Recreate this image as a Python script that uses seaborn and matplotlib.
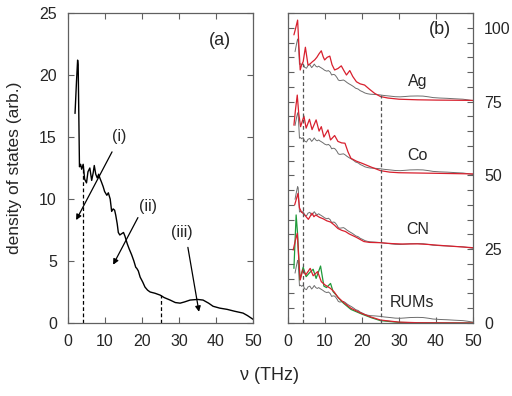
import numpy as np
import pandas as pd
import seaborn as sns
import matplotlib.pyplot as plt
from matplotlib.ticker import MultipleLocator

# total density of states, panel (a)
nu_tot = [1.9, 2.3, 2.6, 2.75, 3.1, 3.4, 3.7, 4.1, 4.5, 5.0, 5.4, 5.9, 6.4, 6.8, 7.1, 7.5,
          7.9, 8.3, 8.6, 9.0, 9.5, 9.9, 10.5, 10.9, 11.4, 11.8, 12.2, 12.6, 12.9, 13.3, 13.6,
          14.0, 14.5, 15.0, 15.4, 16.0, 16.5, 17.2, 17.8, 18.3, 18.6, 19.0, 19.5, 20.2, 20.8,
          21.5, 22.2, 23.5, 24.9, 26.0, 27.6, 29.0, 30.3, 31.5, 33.0, 35.0, 36.5, 38.0, 39.2,
          41.0, 43.0, 45.0, 47.3, 48.5, 50.0]
dos_tot = [16.9, 19.5, 21.2, 20.8, 12.6, 12.8, 12.4, 12.8, 11.6, 11.3, 12.2, 12.5, 11.5, 12.1,
           12.7, 12.0, 11.7, 12.0, 11.7, 11.4, 11.0, 10.6, 10.3, 10.5, 10.0, 9.0, 9.2, 9.1, 8.7,
           8.0, 7.3, 7.1, 7.2, 7.3, 7.0, 6.4, 6.0, 5.5, 5.0, 4.5, 4.4, 4.2, 3.7, 3.3, 2.9, 2.65,
           2.5, 2.4, 2.25, 2.05, 1.85, 1.65, 1.6, 1.7, 1.85, 1.9, 1.85, 1.6, 1.35, 1.2, 1.1,
           0.95, 0.8, 0.6, 0.3]

# partial densities, panel (b)
nu_ag = [1.6, 2.0, 2.6, 2.9, 3.3, 3.7, 4.1, 4.7, 5.4, 6.0, 6.6, 7.2, 7.8, 8.4, 9.0, 9.5, 9.9,
         10.6, 11.3, 11.9, 12.6, 13.5, 14.4, 15.1, 15.8, 16.7, 17.5, 18.5, 19.5, 20.7, 22.0,
         23.4, 25.0, 27.0, 30.0, 35.0, 40.0, 50.0]
dos_ag = [22.6, 24.5, 27.6, 20.0, 10.7, 12.5, 13.5, 18.4, 12.4, 12.8, 13.5, 14.1, 15.0, 16.2,
          17.2, 15.2, 14.1, 15.0, 15.4, 12.5, 10.7, 11.2, 12.1, 10.5, 9.0, 10.5, 8.5, 6.7, 6.0,
          5.6, 4.2, 2.8, 1.7, 1.2, 0.8, 0.6, 0.5, 0.4]

nu_co = [1.6, 2.0, 2.5, 2.9, 3.4, 4.3, 4.9, 5.8, 6.5, 7.6, 8.4, 9.0, 9.7, 10.8, 11.5, 12.6,
         13.5, 14.5, 15.4, 16.2, 17.0, 18.5, 20.0, 22.5, 25.0, 27.5, 30.0, 40.0, 50.0]
dos_co = [17.0, 22.0, 27.2, 21.0, 16.5, 20.1, 16.0, 19.0, 15.5, 18.8, 15.0, 16.5, 13.0, 15.4,
          12.0, 13.5, 11.5, 11.0, 10.9, 8.0, 5.8, 4.8, 4.1, 2.8, 1.6, 1.1, 0.9, 0.7, 0.5]

nu_cn = [1.8, 2.7, 3.1, 3.6, 4.5, 5.5, 6.5, 7.0, 7.5, 8.5, 9.5, 10.5, 11.5, 12.5, 13.5, 14.5,
         15.5, 16.5, 17.5, 18.5, 19.5, 20.5, 22.0, 25.0, 28.0, 31.0, 35.0, 38.0, 42.0, 46.0, 50.0]
dos_cn = [15.0, 18.9, 14.0, 12.7, 11.6, 10.1, 12.2, 11.0, 11.6, 10.8, 10.3, 9.6, 9.2, 8.2, 7.0,
          6.4, 6.0, 5.2, 4.6, 4.0, 3.3, 2.6, 2.3, 2.2, 1.9, 1.75, 1.8, 1.6, 1.2, 0.85, 0.5]

nu_rum_g = [1.6, 2.2, 2.6, 3.2, 4.1, 4.9, 5.8, 6.8, 7.6, 8.8, 9.7, 10.4, 11.5, 12.2, 13.0, 14.0,
            15.0, 17.0, 20.0, 22.5, 25.0, 30.0, 35.0, 50.0]
dos_rum_g = [18.5, 36.6, 30.0, 14.6, 18.9, 15.7, 17.0, 18.2, 15.1, 19.3, 12.5, 12.0, 13.4, 10.6,
             9.5, 8.0, 6.7, 4.6, 3.0, 1.8, 0.8, 0.2, 0.05, 0.0]

nu_rum_r = [1.4, 2.0, 2.5, 2.9, 3.3, 4.0, 4.8, 6.0, 6.8, 8.0, 9.0, 10.0, 11.5, 12.5, 13.5, 15.0,
            17.0, 20.0, 22.5, 25.0, 30.0, 35.0, 50.0]
dos_rum_r = [24.7, 28.0, 30.4, 22.0, 14.6, 18.0, 16.3, 18.5, 16.0, 17.4, 14.0, 12.9, 11.7, 10.5,
             8.7, 7.0, 5.0, 3.2, 2.0, 1.0, 0.3, 0.1, 0.0]

groups = ['Ag', 'Co', 'CN', 'RUMs']
offsets = [75, 50, 25, 0]
marker_nu = [4, 25]

# annotations in (a): label, text position, arrow start, arrow end
arrows = [('(i)', (13.8, 15.0), (11.9, 13.8), (2.2, 8.3)),
          ('(ii)', (21.6, 9.4), (18.9, 8.5), (12.2, 4.7)),
          ('(iii)', (30.8, 7.3), (32.4, 6.1), (35.4, 0.9))]

sns.set_theme(style="ticks")
plt.rcParams['font.family'] = ['Liberation Sans', 'DejaVu Sans']
plt.rcParams['xtick.direction'] = 'in'
plt.rcParams['ytick.direction'] = 'in'

grey = '#6e6e6e'
red = '#d8202e'
green = '#1f9a3a'
frame = '#606060'

fig = plt.figure(figsize=(5.12, 3.96), dpi=100)
ax1 = fig.add_axes([68 / 512, 1 - 323 / 396, 185 / 512, 310 / 396])
ax2 = fig.add_axes([288 / 512, 1 - 323 / 396, 185 / 512, 310 / 396])

tot = pd.DataFrame({'nu': nu_tot, 'dos': dos_tot})

# panel (a)
sns.lineplot(data=tot, x='nu', y='dos', ax=ax1, color='black', lw=1.0)
for m in marker_nu:
    ax1.vlines(m, 0, np.interp(m, nu_tot, dos_tot), colors='black', linestyles=(0, (3, 2)), lw=0.9)
for lab, tpos, start, end in arrows:
    ax1.text(tpos[0], tpos[1], lab, ha='center', va='center', fontsize=11.5)
    ax1.annotate('', xy=end, xytext=start,
                 arrowprops=dict(arrowstyle='-|>', color='black', lw=0.9,
                                 mutation_scale=8, shrinkA=0, shrinkB=0))
ax1.text(41, 22.8, '(a)', ha='center', va='center', fontsize=13)
ax1.set_xlim(0, 50)
ax1.set_ylim(0, 25)
ax1.set_xticks(range(0, 51, 10))
ax1.set_yticks(range(0, 26, 5))
ax1.set_xlabel('')
ax1.set_ylabel('density of states (arb.)', fontsize=12.5, labelpad=12)
ax1.tick_params(top=True, right=True, labelsize=11.5, length=4, color=frame, width=0.8, pad=8)

# panel (b)
partials = {'Ag': (nu_ag, dos_ag), 'Co': (nu_co, dos_co), 'CN': (nu_cn, dos_cn),
            'RUMs': (nu_rum_r, dos_rum_r)}
for g, off in zip(groups, offsets):
    sns.lineplot(x=np.array(nu_tot), y=np.array(dos_tot) + off, ax=ax2, color=grey, lw=0.7)
    if g == 'RUMs':
        sns.lineplot(x=np.array(nu_rum_g), y=np.array(dos_rum_g) + off, ax=ax2, color=green, lw=0.9)
    nu_p, dos_p = partials[g]
    sns.lineplot(x=np.array(nu_p), y=np.array(dos_p) + off, ax=ax2, color=red, lw=0.9)
    ax2.text(35 if g != 'RUMs' else 33.5, off + 6.8, g, ha='center', va='center', fontsize=11.5)
for m in marker_nu:
    ax2.vlines(m, 0, np.interp(m, nu_tot, dos_tot) + offsets[0], colors='#555555',
               linestyles=(0, (3, 2)), lw=0.9)
ax2.text(41, 99.5, '(b)', ha='center', va='center', fontsize=13)
ax2.set_xlim(0, 50)
ax2.set_ylim(0, 105)
ax2.set_xticks(range(0, 51, 10))
ax2.set_yticks([0, 25, 50, 75, 100])
ax2.yaxis.set_minor_locator(MultipleLocator(5))
ax2.set_xlabel('')
ax2.set_ylabel('')
ax2.tick_params(which='both', top=True, right=True, left=True, labelleft=False,
                labelright=True, labelsize=11.5, length=4, color=frame, width=0.8, pad=8)

for ax in (ax1, ax2):
    for s in ax.spines.values():
        s.set_color(frame)
        s.set_linewidth(0.9)

fig.text(270 / 512, 1 - 375 / 396, 'ν (THz)', ha='center', va='center', fontsize=13)

plt.savefig('out.png', dpi=100)
